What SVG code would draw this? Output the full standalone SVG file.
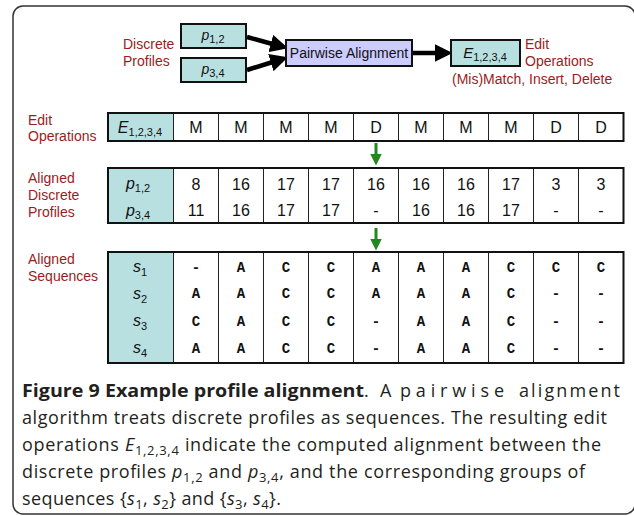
<svg xmlns="http://www.w3.org/2000/svg" width="634" height="516" viewBox="0 0 634 516">
  <style>
    .lbl { font-family: "Liberation Sans", Arial, sans-serif; font-size: 14px; fill: #9b1c1c; }
    .cell { font-family: "Liberation Sans", Arial, sans-serif; font-size: 16px; fill: #111; text-anchor: middle; }
    .it { font-style: italic; }
    .sub { font-size: 11px; font-style: normal; }
    .seq { font-family: "Liberation Mono", "Courier New", monospace; font-size: 14px; font-weight: bold; fill: #111; text-anchor: middle; }
    .node { font-family: "Liberation Sans", Arial, sans-serif; font-size: 14px; fill: #111; text-anchor: middle; }
    .box { stroke: #111; stroke-width: 2; }
    .teal { fill: #b9e0e1; }
    .grid { stroke: #222; stroke-width: 1; }
    .cap { font-family: "Open Sans", "Noto Sans", sans-serif; font-size: 18px; fill: #231f20; }
    .arrow { stroke: #000; stroke-width: 4.5; fill: none; }
    .garrow { stroke: #1e8a1e; stroke-width: 3; fill: none; }
  </style>
  <defs>
    <marker id="ah" markerWidth="4" markerHeight="4" refX="1.2" refY="2" orient="auto" markerUnits="strokeWidth">
      <path d="M0,0 L4,2 L0,4 Z" fill="#000"/>
    </marker>
    <marker id="gh" markerWidth="4" markerHeight="4" refX="0.5" refY="2" orient="auto" markerUnits="strokeWidth">
      <path d="M0,0 L4,2 L0,4 Z" fill="#1e8a1e"/>
    </marker>
  </defs>

  <!-- outer frame -->
  <rect x="13" y="6" width="622" height="508" rx="10" ry="10" fill="#fff" stroke="#333" stroke-width="1.5"/>

  <!-- top flow -->
  <g id="connectors">
    <line class="arrow" x1="247" y1="37" x2="276" y2="45" marker-end="url(#ah)"/>
    <line class="arrow" x1="247" y1="70" x2="276" y2="61" marker-end="url(#ah)"/>
    <line class="arrow" x1="412" y1="53" x2="440" y2="53" marker-end="url(#ah)"/>
    <line class="garrow" x1="376" y1="143" x2="376" y2="155" marker-end="url(#gh)"/>
    <line class="garrow" x1="376" y1="228" x2="376" y2="240" marker-end="url(#gh)"/>
  </g>

  <g id="profiles-label">
    <text class="lbl" x="123" y="49">Discrete</text>
    <text class="lbl" x="123" y="66">Profiles</text>
  </g>
  <g id="p12">
    <rect class="box teal" x="181" y="24" width="65" height="24"/>
    <text class="node" x="213" y="40"><tspan class="it">p</tspan><tspan class="sub" dy="3">1,2</tspan></text>
  </g>
  <g id="p34">
    <rect class="box teal" x="181" y="58" width="65" height="24"/>
    <text class="node" x="213" y="74"><tspan class="it">p</tspan><tspan class="sub" dy="3">3,4</tspan></text>
  </g>
  <g id="pairwise">
    <rect class="box" x="286" y="40" width="126" height="26" fill="#ccccff"/>
    <text class="node" x="349" y="58">Pairwise Alignment</text>
  </g>
  <g id="edit-ops">
    <rect class="box teal" x="451" y="40" width="69" height="26"/>
    <text class="node" x="485" y="58"><tspan class="it" font-size="15">E</tspan><tspan class="sub" dy="3">1,2,3,4</tspan></text>
    <text class="lbl" x="525" y="49">Edit</text>
    <text class="lbl" x="525" y="66">Operations</text>
    <text class="lbl" x="452" y="84">(Mis)Match, Insert, Delete</text>
  </g>

  <!-- edit operations row -->
  <g id="row-edit">
    <text class="lbl" x="28" y="125">Edit</text>
    <text class="lbl" x="28" y="141">Operations</text>
    <rect class="teal" x="108" y="113" width="65.5" height="28"/>
    <g class="grid">
      <line x1="173.5" y1="113" x2="173.5" y2="141"/>
      <line x1="218.5" y1="113" x2="218.5" y2="141"/>
      <line x1="263.5" y1="113" x2="263.5" y2="141"/>
      <line x1="308.5" y1="113" x2="308.5" y2="141"/>
      <line x1="353.5" y1="113" x2="353.5" y2="141"/>
      <line x1="398.5" y1="113" x2="398.5" y2="141"/>
      <line x1="443.5" y1="113" x2="443.5" y2="141"/>
      <line x1="488.5" y1="113" x2="488.5" y2="141"/>
      <line x1="533.5" y1="113" x2="533.5" y2="141"/>
      <line x1="578.5" y1="113" x2="578.5" y2="141"/>
    </g>
    <rect x="108" y="113" width="515.5" height="28" fill="none" stroke="#111" stroke-width="2"/>
    <text class="cell" x="140" y="133" font-size="17"><tspan class="it">E</tspan><tspan class="sub" font-size="12" dy="3">1,2,3,4</tspan></text>
    <text class="cell" y="133"><tspan x="196">M</tspan><tspan x="241">M</tspan><tspan x="286">M</tspan><tspan x="331">M</tspan><tspan x="376">D</tspan><tspan x="421">M</tspan><tspan x="466">M</tspan><tspan x="511">M</tspan><tspan x="556">D</tspan><tspan x="601">D</tspan></text>
  </g>

  <!-- aligned discrete profiles -->
  <g id="row-profiles">
    <text class="lbl" x="28" y="183">Aligned</text>
    <text class="lbl" x="28" y="200">Discrete</text>
    <text class="lbl" x="28" y="217">Profiles</text>
    <rect class="teal" x="108" y="168" width="65.5" height="55"/>
    <g class="grid">
      <line x1="173.5" y1="168" x2="173.5" y2="223"/>
      <line x1="218.5" y1="168" x2="218.5" y2="223"/>
      <line x1="263.5" y1="168" x2="263.5" y2="223"/>
      <line x1="308.5" y1="168" x2="308.5" y2="223"/>
      <line x1="353.5" y1="168" x2="353.5" y2="223"/>
      <line x1="398.5" y1="168" x2="398.5" y2="223"/>
      <line x1="443.5" y1="168" x2="443.5" y2="223"/>
      <line x1="488.5" y1="168" x2="488.5" y2="223"/>
      <line x1="533.5" y1="168" x2="533.5" y2="223"/>
      <line x1="578.5" y1="168" x2="578.5" y2="223"/>
    </g>
    <rect x="108" y="168" width="515.5" height="55" fill="none" stroke="#111" stroke-width="2"/>
    <text class="cell" x="138" y="189" font-size="17"><tspan class="it">p</tspan><tspan class="sub" font-size="12" dy="3">1,2</tspan></text>
    <text class="cell" x="138" y="216" font-size="17"><tspan class="it">p</tspan><tspan class="sub" font-size="12" dy="3">3,4</tspan></text>
    <text class="cell" y="190"><tspan x="196">8</tspan><tspan x="241">16</tspan><tspan x="286">17</tspan><tspan x="331">17</tspan><tspan x="376">16</tspan><tspan x="421">16</tspan><tspan x="466">16</tspan><tspan x="511">17</tspan><tspan x="556">3</tspan><tspan x="601">3</tspan></text>
    <text class="cell" y="216"><tspan x="196">11</tspan><tspan x="241">16</tspan><tspan x="286">17</tspan><tspan x="331">17</tspan><tspan x="376">-</tspan><tspan x="421">16</tspan><tspan x="466">16</tspan><tspan x="511">17</tspan><tspan x="556">-</tspan><tspan x="601">-</tspan></text>
  </g>

  <!-- aligned sequences -->
  <g id="row-sequences">
    <text class="lbl" x="28" y="264">Aligned</text>
    <text class="lbl" x="28" y="281">Sequences</text>
    <rect class="teal" x="108" y="252" width="65.5" height="111"/>
    <g class="grid">
      <line x1="173.5" y1="252" x2="173.5" y2="363"/>
      <line x1="218.5" y1="252" x2="218.5" y2="363"/>
      <line x1="263.5" y1="252" x2="263.5" y2="363"/>
      <line x1="308.5" y1="252" x2="308.5" y2="363"/>
      <line x1="353.5" y1="252" x2="353.5" y2="363"/>
      <line x1="398.5" y1="252" x2="398.5" y2="363"/>
      <line x1="443.5" y1="252" x2="443.5" y2="363"/>
      <line x1="488.5" y1="252" x2="488.5" y2="363"/>
      <line x1="533.5" y1="252" x2="533.5" y2="363"/>
      <line x1="578.5" y1="252" x2="578.5" y2="363"/>
    </g>
    <rect x="108" y="252" width="515.5" height="111" fill="none" stroke="#111" stroke-width="2"/>
    <text class="cell" x="140" y="272" font-size="17"><tspan class="it">s</tspan><tspan class="sub" font-size="12" dy="4">1</tspan></text>
    <text class="cell" x="140" y="299" font-size="17"><tspan class="it">s</tspan><tspan class="sub" font-size="12" dy="4">2</tspan></text>
    <text class="cell" x="140" y="326" font-size="17"><tspan class="it">s</tspan><tspan class="sub" font-size="12" dy="4">3</tspan></text>
    <text class="cell" x="140" y="353" font-size="17"><tspan class="it">s</tspan><tspan class="sub" font-size="12" dy="4">4</tspan></text>
    <text class="seq" y="272"><tspan x="196">-</tspan><tspan x="241">A</tspan><tspan x="286">C</tspan><tspan x="331">C</tspan><tspan x="376">A</tspan><tspan x="421">A</tspan><tspan x="466">A</tspan><tspan x="511">C</tspan><tspan x="556">C</tspan><tspan x="601">C</tspan></text>
    <text class="seq" y="298"><tspan x="196">A</tspan><tspan x="241">A</tspan><tspan x="286">C</tspan><tspan x="331">C</tspan><tspan x="376">A</tspan><tspan x="421">A</tspan><tspan x="466">A</tspan><tspan x="511">C</tspan><tspan x="556">-</tspan><tspan x="601">-</tspan></text>
    <text class="seq" y="326"><tspan x="196">C</tspan><tspan x="241">A</tspan><tspan x="286">C</tspan><tspan x="331">C</tspan><tspan x="376">-</tspan><tspan x="421">A</tspan><tspan x="466">A</tspan><tspan x="511">C</tspan><tspan x="556">-</tspan><tspan x="601">-</tspan></text>
    <text class="seq" y="353"><tspan x="196">A</tspan><tspan x="241">A</tspan><tspan x="286">C</tspan><tspan x="331">C</tspan><tspan x="376">-</tspan><tspan x="421">A</tspan><tspan x="466">A</tspan><tspan x="511">C</tspan><tspan x="556">-</tspan><tspan x="601">-</tspan></text>
  </g>

  <!-- caption (first line justified word by word) -->
  <g id="caption" class="cap">
    <text x="22" y="397" font-weight="bold" textLength="342" lengthAdjust="spacingAndGlyphs">Figure 9 Example profile alignment</text>
    <text x="364" y="397">.</text>
    <text x="380" y="397">A</text>
    <text x="400" y="397" textLength="104" lengthAdjust="spacing">pairwise</text>
    <text x="519" y="397" textLength="101" lengthAdjust="spacing">alignment</text>
    <text x="22" y="424" textLength="585" lengthAdjust="spacing">algorithm treats discrete profiles as sequences. The resulting edit</text>
    <text x="22" y="451" textLength="579" lengthAdjust="spacing">operations <tspan font-style="italic">E</tspan><tspan font-size="13" dy="4">1,2,3,4</tspan><tspan dy="-4"> indicate the computed alignment between the</tspan></text>
    <text x="22" y="478" textLength="563" lengthAdjust="spacing">discrete profiles <tspan font-style="italic">p</tspan><tspan font-size="13" dy="4">1,2</tspan><tspan dy="-4"> and </tspan><tspan font-style="italic">p</tspan><tspan font-size="13" dy="4">3,4</tspan><tspan dy="-4">, and the corresponding groups of</tspan></text>
    <text x="22" y="505" textLength="259" lengthAdjust="spacing">sequences {<tspan font-style="italic">s</tspan><tspan font-size="13" dy="4">1</tspan><tspan dy="-4">, </tspan><tspan font-style="italic">s</tspan><tspan font-size="13" dy="4">2</tspan><tspan dy="-4">} and {</tspan><tspan font-style="italic">s</tspan><tspan font-size="13" dy="4">3</tspan><tspan dy="-4">, </tspan><tspan font-style="italic">s</tspan><tspan font-size="13" dy="4">4</tspan><tspan dy="-4">}.</tspan></text>
  </g>
</svg>
